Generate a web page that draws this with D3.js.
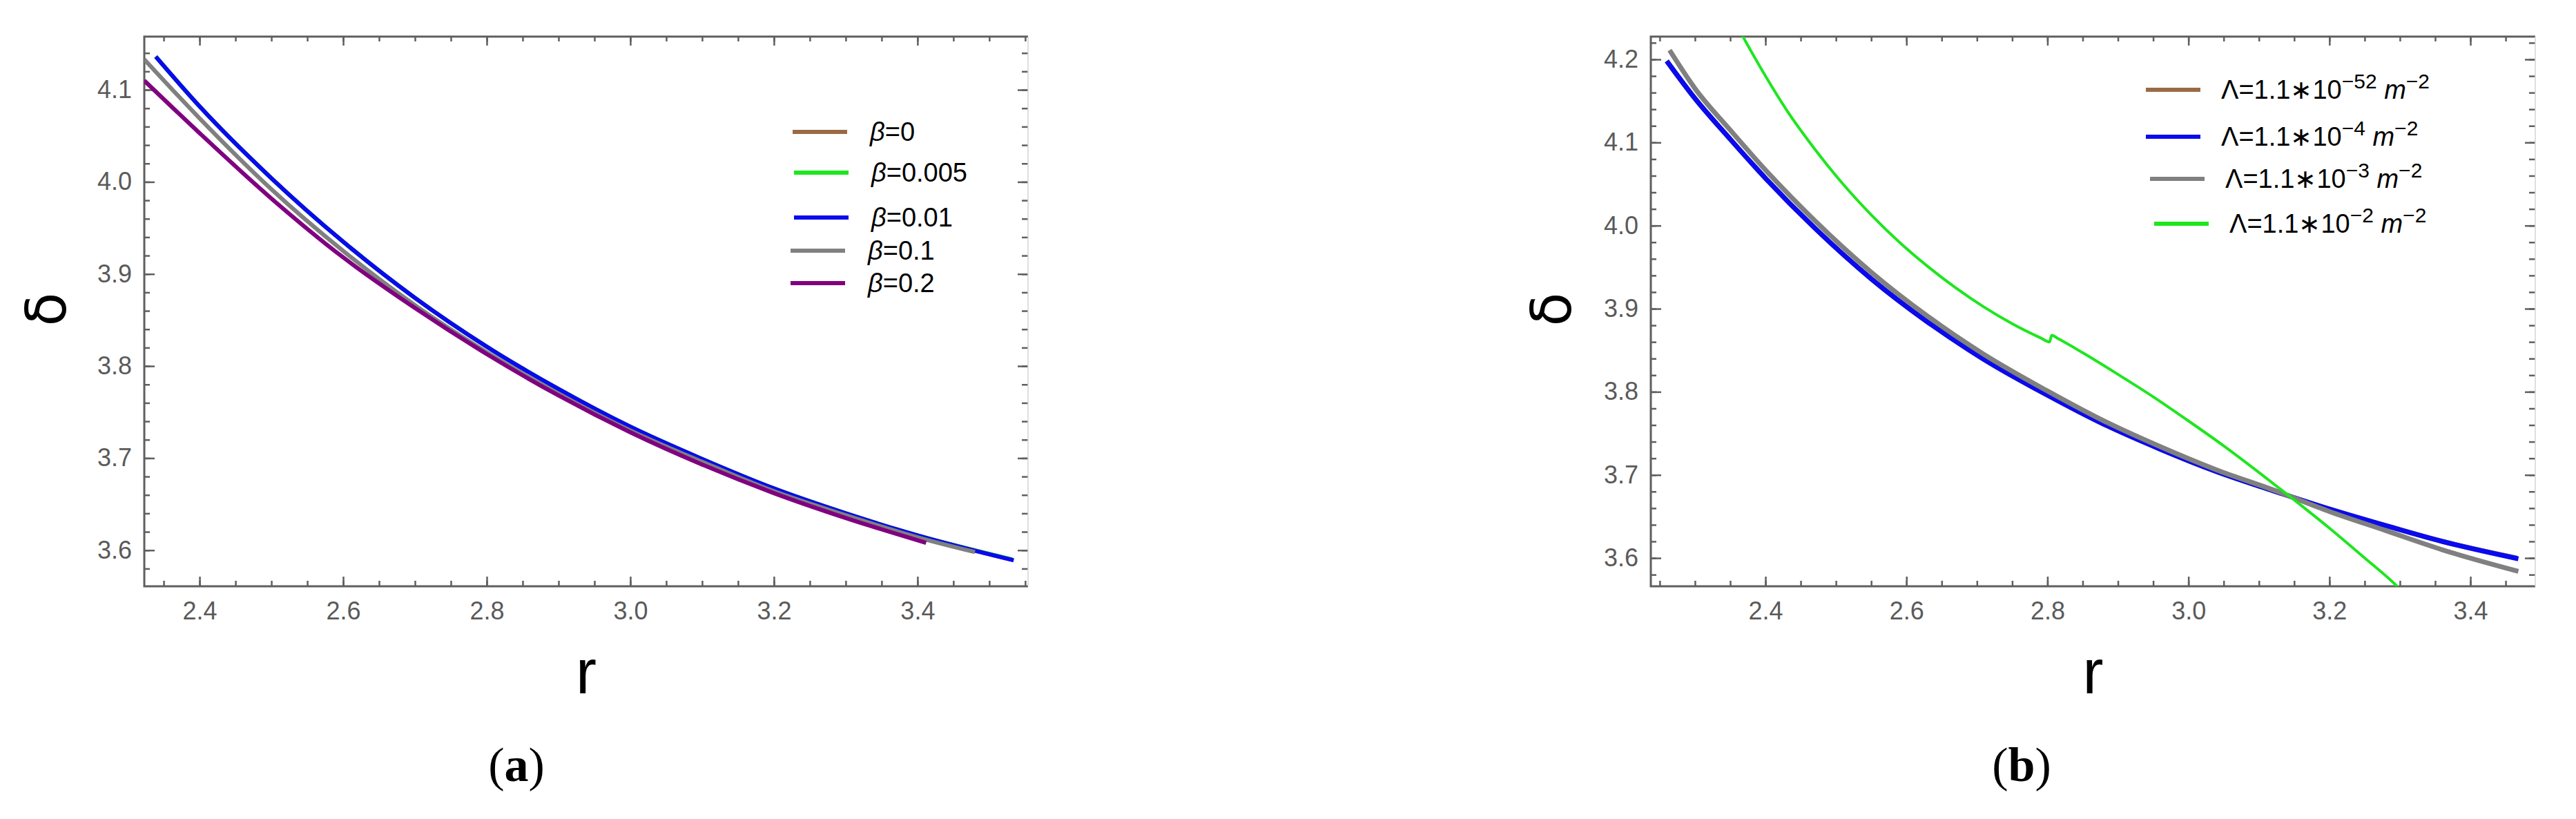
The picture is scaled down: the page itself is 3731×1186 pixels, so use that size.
<!DOCTYPE html>
<html>
<head>
<meta charset="utf-8">
<script src="https://cdn.jsdelivr.net/npm/d3@7"></script>
<style>
  body { margin: 0; background: #fff; }
  svg { display: block; }
</style>
</head>
<body>
<div id="chart"></div>
<script>
// tick labels
const rTickValues = [2.4, 2.6, 2.8, 3.0, 3.2, 3.4];
const deltaTickValuesA = [3.6, 3.7, 3.8, 3.9, 4.0, 4.1];
const deltaTickValuesB = [3.6, 3.7, 3.8, 3.9, 4.0, 4.1, 4.2];

// panel (a): delta(r) for several beta
const betaLabels = ["0", "0.005", "0.01", "0.1", "0.2"];
const betaColors = ["#9a6a45", "#1ee61e", "#0a0aee", "#808080", "#800080"];
const betaBrown = [[2.339, 4.136], [2.40, 4.082], [2.50, 4.004], [2.60, 3.935], [2.70, 3.874], [2.80, 3.821],
  [2.90, 3.775], [3.00, 3.734], [3.10, 3.699], [3.20, 3.667], [3.30, 3.640], [3.40, 3.616], [3.530, 3.590]];
const betaGreen = [[2.339, 4.136], [2.40, 4.082], [2.50, 4.004], [2.60, 3.935], [2.70, 3.874], [2.80, 3.821],
  [2.90, 3.775], [3.00, 3.734], [3.10, 3.699], [3.20, 3.667], [3.30, 3.640], [3.40, 3.616], [3.532, 3.590]];
const betaBlue = [[2.339, 4.136], [2.40, 4.082], [2.50, 4.004], [2.60, 3.935], [2.70, 3.874], [2.80, 3.821],
  [2.90, 3.775], [3.00, 3.734], [3.10, 3.699], [3.20, 3.667], [3.30, 3.640], [3.40, 3.616], [3.534, 3.589]];
const betaGray = [[2.323, 4.133], [2.40, 4.069], [2.50, 3.992], [2.60, 3.925], [2.70, 3.866], [2.80, 3.815],
  [2.90, 3.770], [3.00, 3.730], [3.10, 3.696], [3.20, 3.664], [3.30, 3.638], [3.40, 3.614], [3.48, 3.598]];
const betaPurple = [[2.323, 4.110], [2.40, 4.053], [2.50, 3.982], [2.60, 3.918], [2.70, 3.863], [2.80, 3.813],
  [2.90, 3.768], [3.00, 3.728], [3.10, 3.693], [3.20, 3.662], [3.30, 3.635], [3.412, 3.608]];

// panel (b): delta(r) for several Lambda
const lambdaExponents = ["\u221252", "\u22124", "\u22123", "\u22122"];
const lambdaColors = ["#9a6a45", "#0a0aee", "#808080", "#1ee61e"];
const lambdaBrown = [[2.260, 4.198], [2.30, 4.153], [2.35, 4.104], [2.40, 4.057], [2.47, 3.997], [2.55, 3.936],
  [2.63, 3.884], [2.71, 3.839], [2.80, 3.796], [2.88, 3.761], [2.96, 3.731], [3.04, 3.704], [3.12, 3.681],
  [3.20, 3.659], [3.28, 3.639], [3.36, 3.620], [3.466, 3.600]];
const lambdaBlue = [[2.260, 4.198], [2.30, 4.153], [2.35, 4.104], [2.40, 4.057], [2.47, 3.997], [2.55, 3.936],
  [2.63, 3.884], [2.71, 3.839], [2.80, 3.796], [2.88, 3.761], [2.96, 3.731], [3.04, 3.704], [3.12, 3.681],
  [3.20, 3.659], [3.28, 3.639], [3.36, 3.620], [3.468, 3.599]];
const lambdaGray = [[2.264, 4.211], [2.30, 4.165], [2.35, 4.115], [2.40, 4.067], [2.47, 4.006], [2.55, 3.944],
  [2.63, 3.891], [2.71, 3.845], [2.80, 3.801], [2.88, 3.765], [2.96, 3.734], [3.04, 3.706], [3.12, 3.682],
  [3.20, 3.656], [3.28, 3.633], [3.36, 3.610], [3.468, 3.584]];
const lambdaGreen = [[2.352, 4.252], [2.365, 4.232], [2.40, 4.180], [2.43, 4.139], [2.47, 4.092], [2.51, 4.050],
  [2.55, 4.013], [2.59, 3.980], [2.63, 3.951], [2.67, 3.925], [2.71, 3.902], [2.75, 3.882], [2.79, 3.865],
  [2.803, 3.860], [2.806, 3.868], [2.815, 3.864], [2.85, 3.847], [2.90, 3.821], [2.95, 3.794], [3.00, 3.765],
  [3.05, 3.735], [3.10, 3.703], [3.15, 3.670], [3.20, 3.636], [3.25, 3.600], [3.296, 3.566], [3.304, 3.559]];

const W = 3731, H = 1186;
const axisColor = "#5f5f5f";

const svg = d3.select("#chart").append("svg")
  .attr("width", W)
  .attr("height", H)
  .style("background", "#fff");

function drawPanel(p) {
  const x = d3.scaleLinear().domain(p.xDomain).range([p.left, p.right]);
  const y = d3.scaleLinear().domain(p.yDomain).range([p.bottom, p.top]);

  const minorX = d3.range(2.2, 3.6, 0.05).map(v => +v.toFixed(2))
    .filter(v => v >= p.xDomain[0] && v <= p.xDomain[1]);
  const minorY = d3.range(3.5, 4.3, 0.02).map(v => +v.toFixed(2))
    .filter(v => v >= p.yDomain[0] && v <= p.yDomain[1]);

  const g = svg.append("g");

  const styleAxis = sel => {
    sel.attr("font-size", null).attr("font-family", null).attr("color", axisColor);
    sel.select(".domain").remove();
    sel.selectAll(".tick line").attr("stroke-width", 2.5);
    sel.selectAll(".tick text")
      .attr("fill", "#5a5a5a")
      .style("font-family", "'Liberation Sans', Arial, sans-serif")
      .style("font-size", "36px");
  };

  // bottom axis (labelled)
  g.append("g").attr("transform", `translate(0,${p.bottom})`)
    .call(d3.axisBottom(x).tickValues(minorX).tickSize(-8).tickFormat(""))
    .call(styleAxis);
  g.append("g").attr("transform", `translate(0,${p.bottom})`)
    .call(d3.axisBottom(x).tickValues(rTickValues).tickSize(-14).tickPadding(22).tickFormat(d3.format(".1f")))
    .call(styleAxis);

  // left axis (labelled)
  g.append("g").attr("transform", `translate(${p.left},0)`)
    .call(d3.axisLeft(y).tickValues(minorY).tickSize(-8).tickFormat(""))
    .call(styleAxis);
  g.append("g").attr("transform", `translate(${p.left},0)`)
    .call(d3.axisLeft(y).tickValues(p.yTicks).tickSize(-15).tickPadding(18).tickFormat(d3.format(".1f")))
    .call(styleAxis);

  // top and right mirror ticks
  g.append("g").attr("transform", `translate(0,${p.top})`)
    .call(d3.axisTop(x).tickValues(minorX).tickSize(-7).tickFormat(""))
    .call(styleAxis);
  g.append("g").attr("transform", `translate(0,${p.top})`)
    .call(d3.axisTop(x).tickValues(rTickValues).tickSize(-13).tickFormat(""))
    .call(styleAxis);
  g.append("g").attr("transform", `translate(${p.right},0)`)
    .call(d3.axisRight(y).tickValues(minorY).tickSize(-9).tickFormat(""))
    .call(styleAxis);
  g.append("g").attr("transform", `translate(${p.right},0)`)
    .call(d3.axisRight(y).tickValues(p.yTicks).tickSize(-15).tickFormat(""))
    .call(styleAxis);

  // frame
  g.append("path")
    .attr("d", `M${p.right},${p.top}H${p.left}V${p.bottom}H${p.right}`)
    .attr("fill", "none").attr("stroke", axisColor).attr("stroke-width", 3);
  g.append("line")
    .attr("x1", p.right).attr("x2", p.right).attr("y1", p.top).attr("y2", p.bottom)
    .attr("stroke", "#d4d4d4").attr("stroke-width", 1.5);

  // curves
  const clipId = "clip-" + p.id;
  svg.append("clipPath").attr("id", clipId)
    .append("rect")
    .attr("x", p.left).attr("y", p.top)
    .attr("width", p.right - p.left).attr("height", p.bottom - p.top);

  const line = d3.line()
    .x(d => x(d[0]))
    .y(d => y(d[1]))
    .curve(d3.curveMonotoneX);

  const curves = g.append("g").attr("clip-path", `url(#${clipId})`);
  p.series.forEach((s, i) => {
    curves.append("path")
      .attr("d", line(s))
      .attr("fill", "none")
      .attr("stroke", p.colors[i])
      .attr("stroke-width", p.widths[i])
      .attr("stroke-linejoin", "round");
  });

  // axis labels
  svg.append("text")
    .attr("transform", `translate(${p.deltaX},448) rotate(-90)`)
    .attr("text-anchor", "middle")
    .attr("dominant-baseline", "central")
    .style("font-family", "'DejaVu Sans', sans-serif")
    .style("font-size", "80px")
    .attr("fill", "#000")
    .text("δ");

  svg.append("text")
    .attr("x", (p.left + p.right) / 2)
    .attr("y", 1004)
    .attr("text-anchor", "middle")
    .style("font-family", "'Liberation Sans', Arial, sans-serif")
    .style("font-size", "90px")
    .attr("fill", "#000")
    .text("r");

  const cap = svg.append("text")
    .attr("x", p.captionX)
    .attr("y", 1131)
    .attr("text-anchor", "middle")
    .style("font-family", "'Liberation Serif', 'Times New Roman', serif")
    .style("font-size", "70px")
    .attr("fill", "#000");
  cap.append("tspan").text("(");
  cap.append("tspan").attr("font-weight", "bold").text(p.caption);
  cap.append("tspan").text(")");

  return g;
}

// panel (a)
drawPanel({
  id: "a",
  left: 209, right: 1489, top: 53, bottom: 849,
  xDomain: [2.323, 3.554], yDomain: [3.5608, 4.1578],
  yTicks: deltaTickValuesA,
  series: [betaBrown, betaGreen, betaBlue, betaGray, betaPurple],
  colors: betaColors,
  widths: [6, 6, 6, 6, 6],
  deltaX: 67, captionX: 748, caption: "a"
});

// panel (b)
drawPanel({
  id: "b",
  left: 2391, right: 3672, top: 53, bottom: 849,
  xDomain: [2.2374, 3.492], yDomain: [3.566, 4.2274],
  yTicks: deltaTickValuesB,
  series: [lambdaBrown, lambdaBlue, lambdaGray, lambdaGreen],
  colors: lambdaColors,
  widths: [7, 7, 7, 4],
  deltaX: 2247, captionX: 2928, caption: "b"
});

// legend (a)
const legendAY = [191, 250, 315, 363, 410];
const legendAShift = [0, 2, 2, -3, -3];
const legA = svg.append("g");
betaLabels.forEach((lab, i) => {
  const dx = legendAShift[i];
  legA.append("line")
    .attr("x1", 1148 + dx).attr("x2", 1227 + dx)
    .attr("y1", legendAY[i]).attr("y2", legendAY[i])
    .attr("stroke", betaColors[i]).attr("stroke-width", 6);
  const t = legA.append("text")
    .attr("x", 1260 + dx)
    .attr("y", legendAY[i] + 13)
    .style("font-family", "'Liberation Sans', Arial, sans-serif")
    .style("font-size", "38px")
    .attr("fill", "#000");
  t.append("tspan").attr("font-style", "italic").text("β");
  t.append("tspan").text("=" + lab);
});

// legend (b)
const legendBY = [130, 198, 259, 324];
const legendBShift = [0, 0, 6, 12];
const legB = svg.append("g");
lambdaExponents.forEach((ex, i) => {
  const dx = legendBShift[i];
  legB.append("line")
    .attr("x1", 3108 + dx).attr("x2", 3187 + dx)
    .attr("y1", legendBY[i]).attr("y2", legendBY[i])
    .attr("stroke", lambdaColors[i]).attr("stroke-width", 6);
  const t = legB.append("text")
    .attr("x", 3217 + dx)
    .attr("y", legendBY[i] + 13)
    .style("font-family", "'Liberation Sans', Arial, sans-serif")
    .style("font-size", "38px")
    .attr("fill", "#000");
  t.append("tspan").text("Λ=1.1∗10");
  t.append("tspan").attr("dy", -15).style("font-size", "30px").text(ex);
  t.append("tspan").attr("dy", 15).text(" ");
  t.append("tspan").attr("font-style", "italic").text("m");
  t.append("tspan").attr("dy", -15).style("font-size", "30px").text("\u22122");
});
</script>
</body>
</html>
